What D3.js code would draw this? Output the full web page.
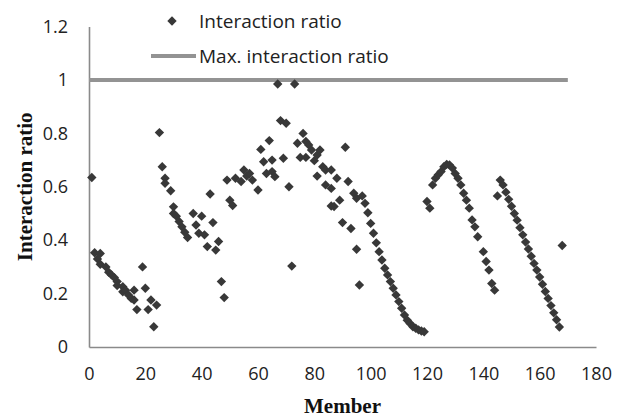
<!DOCTYPE html>
<html>
<head>
<meta charset="utf-8">
<script src="https://cdn.jsdelivr.net/npm/d3@7"></script>
<style>
  html, body { margin: 0; padding: 0; background: #fff; }
  svg { display: block; }
</style>
</head>
<body>
<svg id="chart" width="623" height="418"></svg>
<script>
// member index and its interaction ratio
const members = [
  1, 2, 3, 4, 4, 6, 7, 8, 9, 10, 10, 12, 12, 13, 14, 15, 16, 16, 17, 19, 20, 21, 22, 23, 24,
  25, 26, 27, 27, 29, 30, 30, 31, 32, 33, 34, 35, 37, 38, 39, 40, 41, 42, 43, 44, 45, 46, 47, 48,
  49, 50, 51, 52, 54, 55, 56, 57, 58, 60, 61, 62, 63, 64, 65, 65, 66, 67, 68, 69, 70, 71, 72, 73,
  74, 75, 76, 77, 77, 78, 79, 80, 81, 81, 82, 83, 84, 84, 86, 86, 86,
  88, 91, 89, 87, 92, 94, 95, 97, 98, 90, 93, 95, 96,
  99, 100, 101, 102, 103, 104, 105, 106, 107, 108, 109, 110, 111, 112, 113, 114, 115, 116, 117, 118, 119,
  120, 121, 122, 123, 124, 125, 126, 127, 128, 129, 130, 131, 132, 133, 134, 135, 136, 137, 138, 140, 141, 142, 143, 144,
  145, 146, 147, 148, 149, 150, 151, 152, 153, 154, 155, 156, 157, 158, 159, 160, 161, 162, 163, 164, 165, 166, 167, 168
];
const ratios = [
  0.635, 0.353, 0.33, 0.35, 0.31, 0.30, 0.28, 0.27, 0.26, 0.245, 0.23, 0.226, 0.207, 0.213, 0.195, 0.182, 0.176, 0.213, 0.14, 0.30, 0.22, 0.14, 0.176, 0.076, 0.157,
  0.803, 0.675, 0.632, 0.613, 0.585, 0.525, 0.50, 0.49, 0.47, 0.45, 0.43, 0.41, 0.50, 0.457, 0.426, 0.49, 0.42, 0.376, 0.573, 0.466, 0.363, 0.395, 0.245, 0.185,
  0.625, 0.55, 0.53, 0.632, 0.62, 0.663, 0.64, 0.65, 0.625, 0.588, 0.74, 0.694, 0.65, 0.773, 0.70, 0.657, 0.638, 0.985, 0.848, 0.707, 0.838, 0.60, 0.303, 0.985,
  0.763, 0.71, 0.80, 0.77, 0.71, 0.757, 0.738, 0.698, 0.719, 0.64, 0.738, 0.675, 0.607, 0.663, 0.663, 0.594, 0.528,
  0.632, 0.748, 0.55, 0.526, 0.62, 0.576, 0.557, 0.566, 0.538, 0.466, 0.444, 0.366, 0.232,
  0.503, 0.463, 0.426, 0.39, 0.357, 0.326, 0.295, 0.27, 0.245, 0.22, 0.195, 0.17, 0.145, 0.12, 0.10, 0.088, 0.076, 0.07, 0.064, 0.06, 0.057,
  0.545, 0.52, 0.607, 0.632, 0.645, 0.657, 0.675, 0.684, 0.682, 0.67, 0.65, 0.632, 0.607, 0.576, 0.55, 0.52, 0.476, 0.45, 0.413, 0.357, 0.32, 0.288, 0.238, 0.213,
  0.566, 0.625, 0.607, 0.58, 0.553, 0.527, 0.50, 0.475, 0.447, 0.42, 0.393, 0.367, 0.34, 0.313, 0.288, 0.262, 0.235, 0.208, 0.182, 0.155, 0.128, 0.102, 0.075, 0.38
];
// the limit line
const maxLineX = [0, 170];
const maxLineY = [1, 1];

const xTicks = [0, 20, 40, 60, 80, 100, 120, 140, 160, 180];
const yTicks = [0, 0.2, 0.4, 0.6, 0.8, 1, 1.2];

const svg = d3.select('#chart');
const sans = '"Open Sans", Lato, sans-serif';
const serif = '"Liberation Serif", "DejaVu Serif", serif';

const x = d3.scaleLinear().domain([0, 180]).range([89, 596]);
const y = d3.scaleLinear().domain([0, 1.2]).range([347, 26.6]);

// axes, no tick marks
const gx = svg.append('g').attr('transform', `translate(0,${y(0)})`)
  .call(d3.axisBottom(x).tickValues(xTicks).tickSize(0).tickPadding(20));
const gy = svg.append('g').attr('transform', `translate(${x(0)},0)`)
  .call(d3.axisLeft(y).tickValues(yTicks).tickFormat(d3.format('~g')).tickSize(0).tickPadding(21));

for (const g of [gx, gy]) {
  g.select('.domain').attr('stroke', '#8a8a8a').attr('stroke-width', 1.6);
  g.selectAll('text').attr('font-family', sans).attr('font-size', 18).attr('fill', '#222');
}

// max ratio line
const line = d3.line().x(d => x(d[0])).y(d => y(d[1]));
svg.append('path')
  .datum(d3.zip(maxLineX, maxLineY))
  .attr('d', line)
  .attr('fill', 'none')
  .attr('stroke', '#939393')
  .attr('stroke-width', 4);

// diamonds
const diamond = d3.symbol().type(d3.symbolSquare).size(44);
svg.append('g').selectAll('path')
  .data(d3.zip(members, ratios))
  .join('path')
  .attr('d', diamond)
  .attr('transform', d => `translate(${x(d[0])},${y(d[1])}) rotate(45)`)
  .attr('fill', '#383838');

// axis titles
svg.append('text')
  .attr('x', (x(0) + x(180)) / 2).attr('y', 413)
  .attr('text-anchor', 'middle')
  .attr('font-family', serif).attr('font-weight', 'bold').attr('font-size', 21)
  .attr('fill', '#111')
  .text('Member');

svg.append('text')
  .attr('transform', `translate(32,${(y(0) + y(1.2)) / 2}) rotate(-90)`)
  .attr('text-anchor', 'middle')
  .attr('font-family', serif).attr('font-weight', 'bold').attr('font-size', 21)
  .attr('fill', '#111')
  .text('Interaction ratio');

// legend
const lg = svg.append('g');
lg.append('path')
  .attr('d', diamond)
  .attr('transform', 'translate(172,21) rotate(45)')
  .attr('fill', '#383838');
lg.append('text')
  .attr('x', 199).attr('y', 21).attr('dy', '0.35em')
  .attr('font-family', sans).attr('font-size', 19).attr('fill', '#222')
  .text('Interaction ratio');
lg.append('line')
  .attr('x1', 151).attr('x2', 196).attr('y1', 56).attr('y2', 56)
  .attr('stroke', '#939393').attr('stroke-width', 4);
lg.append('text')
  .attr('x', 199).attr('y', 56).attr('dy', '0.35em')
  .attr('font-family', sans).attr('font-size', 19).attr('fill', '#222')
  .text('Max. interaction ratio');
</script>
</body>
</html>
